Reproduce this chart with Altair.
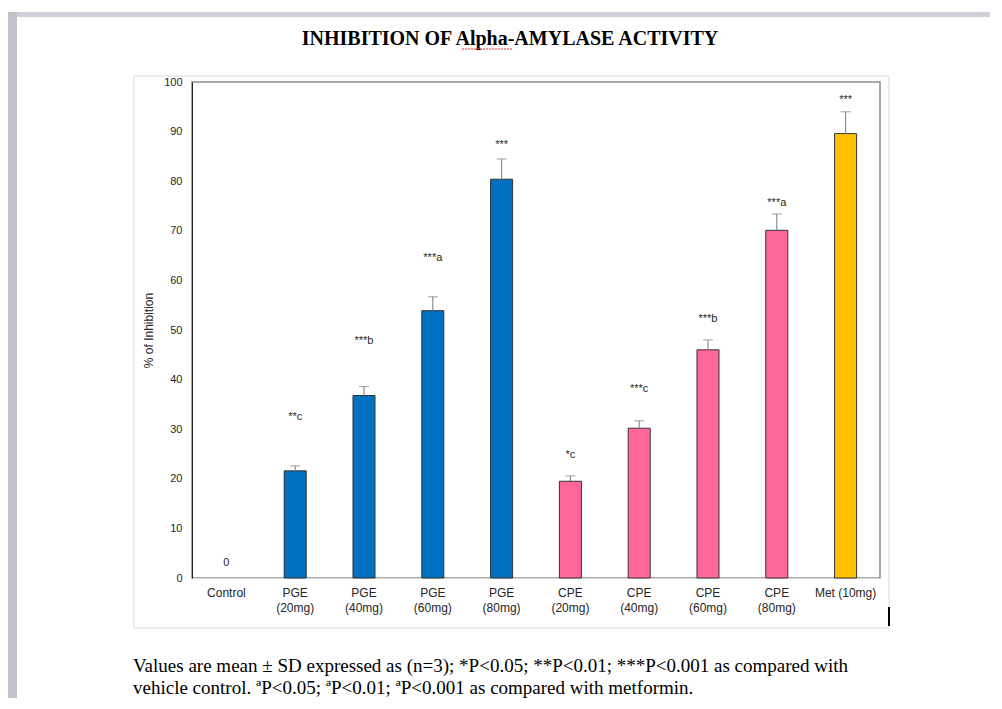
import altair as alt
import pandas as pd

# ---- data ----
categories = ["Control", "PGE (20mg)", "PGE (40mg)", "PGE (60mg)", "PGE (80mg)",
              "CPE (20mg)", "CPE (40mg)", "CPE (60mg)", "CPE (80mg)", "Met (10mg)"]
values = [0, 21.6, 36.8, 53.9, 80.4, 19.5, 30.2, 46.0, 70.1, 89.6]
sd = [0, 1.0, 1.8, 2.8, 4.1, 1.1, 1.5, 2.0, 3.3, 4.4]
groups = ["Control", "PGE", "PGE", "PGE", "PGE", "CPE", "CPE", "CPE", "CPE", "Met"]
labels = ["0", "**c", "***b", "***a", "***", "*c", "***c", "***b", "***a", "***"]
label_y = [3.0, 32.5, 47.8, 64.5, 87.3, 24.8, 38.1, 52.2, 75.7, 96.4]
y_ticks = [0, 10, 20, 30, 40, 50, 60, 70, 80, 90, 100]

group_domain = ["Control", "PGE", "CPE", "Met"]
group_colors = ["#ffffff", "#0070c0", "#ff6699", "#ffc000"]

title_text = "INHIBITION OF Alpha-AMYLASE ACTIVITY"
caption_1 = "Values are mean \u00b1 SD expressed as (n=3); *P<0.05; **P<0.01; ***P<0.001 as compared with"
caption_2 = "vehicle control. \u00aaP<0.05; \u00aaP<0.01; \u00aaP<0.001 as compared with metformin."

df = pd.DataFrame({
    "cat": categories,
    "value": values,
    "sd": sd,
    "group": groups,
    "label": labels,
    "label_y": label_y,
})
df["top"] = df["value"] + df["sd"]

W, H = 688, 496

x_enc = alt.X("cat:N", sort=categories,
              scale=alt.Scale(paddingInner=0, paddingOuter=0),
              axis=alt.Axis(title=None, labelAngle=0, ticks=False, domainColor="#d9d9d9",
                            labelPadding=9, labelLineHeight=15, labelFontSize=12,
                            labelFont="Liberation Sans", labelColor="#262626",
                            labelExpr="datum.label == 'Met (10mg)' ? datum.label : split(datum.label, ' ')"))
y_scale = alt.Scale(domain=[0, 100], nice=False)

base = alt.Chart(df)

bars = base.transform_filter("datum.value > 0").mark_bar(
    width=alt.RelativeBandSize(0.32), stroke="#333333", strokeWidth=1
).encode(
    x=x_enc,
    y=alt.Y("value:Q", scale=y_scale,
            axis=alt.Axis(values=y_ticks, grid=False, ticks=False, domainColor="#222222",
                          labelPadding=10, labelFontSize=11, labelFont="Liberation Sans",
                          labelColor="#262626", title="% of Inhibition",
                          titleFont="Liberation Sans", titleFontSize=12, titleFontWeight="normal",
                          titleColor="#262626", titleX=-44, titleY=H / 2, titleAngle=270,
                          titleAlign="center", titleBaseline="middle")),
    color=alt.Color("group:N", scale=alt.Scale(domain=group_domain, range=group_colors), legend=None),
)

err = base.transform_filter("datum.value > 0").mark_rule(color="#8c8c8c", strokeWidth=1.2).encode(
    x=alt.X("cat:N", sort=categories), y=alt.Y("value:Q", scale=y_scale), y2="top:Q"
)
caps = base.transform_filter("datum.value > 0").mark_tick(
    color="#8c8c8c", size=10, thickness=1.2, orient="horizontal"
).encode(x=alt.X("cat:N", sort=categories), y=alt.Y("top:Q", scale=y_scale))

ann = base.mark_text(font="Liberation Sans", fontSize=11, color="#262626", baseline="middle").encode(
    x=alt.X("cat:N", sort=categories), y=alt.Y("label_y:Q", scale=y_scale), text="label:N"
)

deco = pd.DataFrame({"d": [0]})
dbase = alt.Chart(deco)

top_bar = dbase.mark_rect(color="#cdd0d4").encode(
    x=alt.value(-184), x2=alt.value(810), y=alt.value(-70), y2=alt.value(-65))
left_bar = dbase.mark_rect(color="#c0c3c7").encode(
    x=alt.value(-184), x2=alt.value(-175), y=alt.value(-70), y2=alt.value(640))
frame = dbase.mark_rect(fill=None, stroke="#d9d9d9", strokeWidth=1).encode(
    x=alt.value(-58), x2=alt.value(697), y=alt.value(-6), y2=alt.value(546))
cursor = dbase.mark_rule(color="#000000", strokeWidth=2).encode(
    x=alt.value(697), y=alt.value(525), y2=alt.value(544))

title = dbase.mark_text(font="Liberation Serif", fontSize=20, fontWeight="bold",
                        color="#000000", align="center", baseline="alphabetic").encode(
    x=alt.value(318), y=alt.value(-37), text=alt.value(title_text))
squiggle = dbase.mark_rule(color="#e03030", strokeWidth=1, strokeDash=[2, 1]).encode(
    x=alt.value(270), x2=alt.value(321), y=alt.value(-33))

cap1 = dbase.mark_text(font="Liberation Serif", fontSize=19, color="#000000",
                       align="left", baseline="alphabetic").encode(
    x=alt.value(-59), y=alt.value(590), text=alt.value(caption_1))
cap2 = dbase.mark_text(font="Liberation Serif", fontSize=19, color="#000000",
                       align="left", baseline="alphabetic").encode(
    x=alt.value(-59), y=alt.value(612), text=alt.value(caption_2))

chart = alt.layer(
    top_bar, left_bar, frame, bars, err, caps, ann, cursor, title, squiggle, cap1, cap2
).properties(
    width=W, height=H,
    autosize=alt.AutoSizeParams(type="none"),
    padding={"left": 184, "top": 74, "right": 110, "bottom": 120},
).configure_view(stroke="#8c8c8c", strokeWidth=1.5)

chart.save("out.html", embed_options={"renderer": "svg", "actions": False})
